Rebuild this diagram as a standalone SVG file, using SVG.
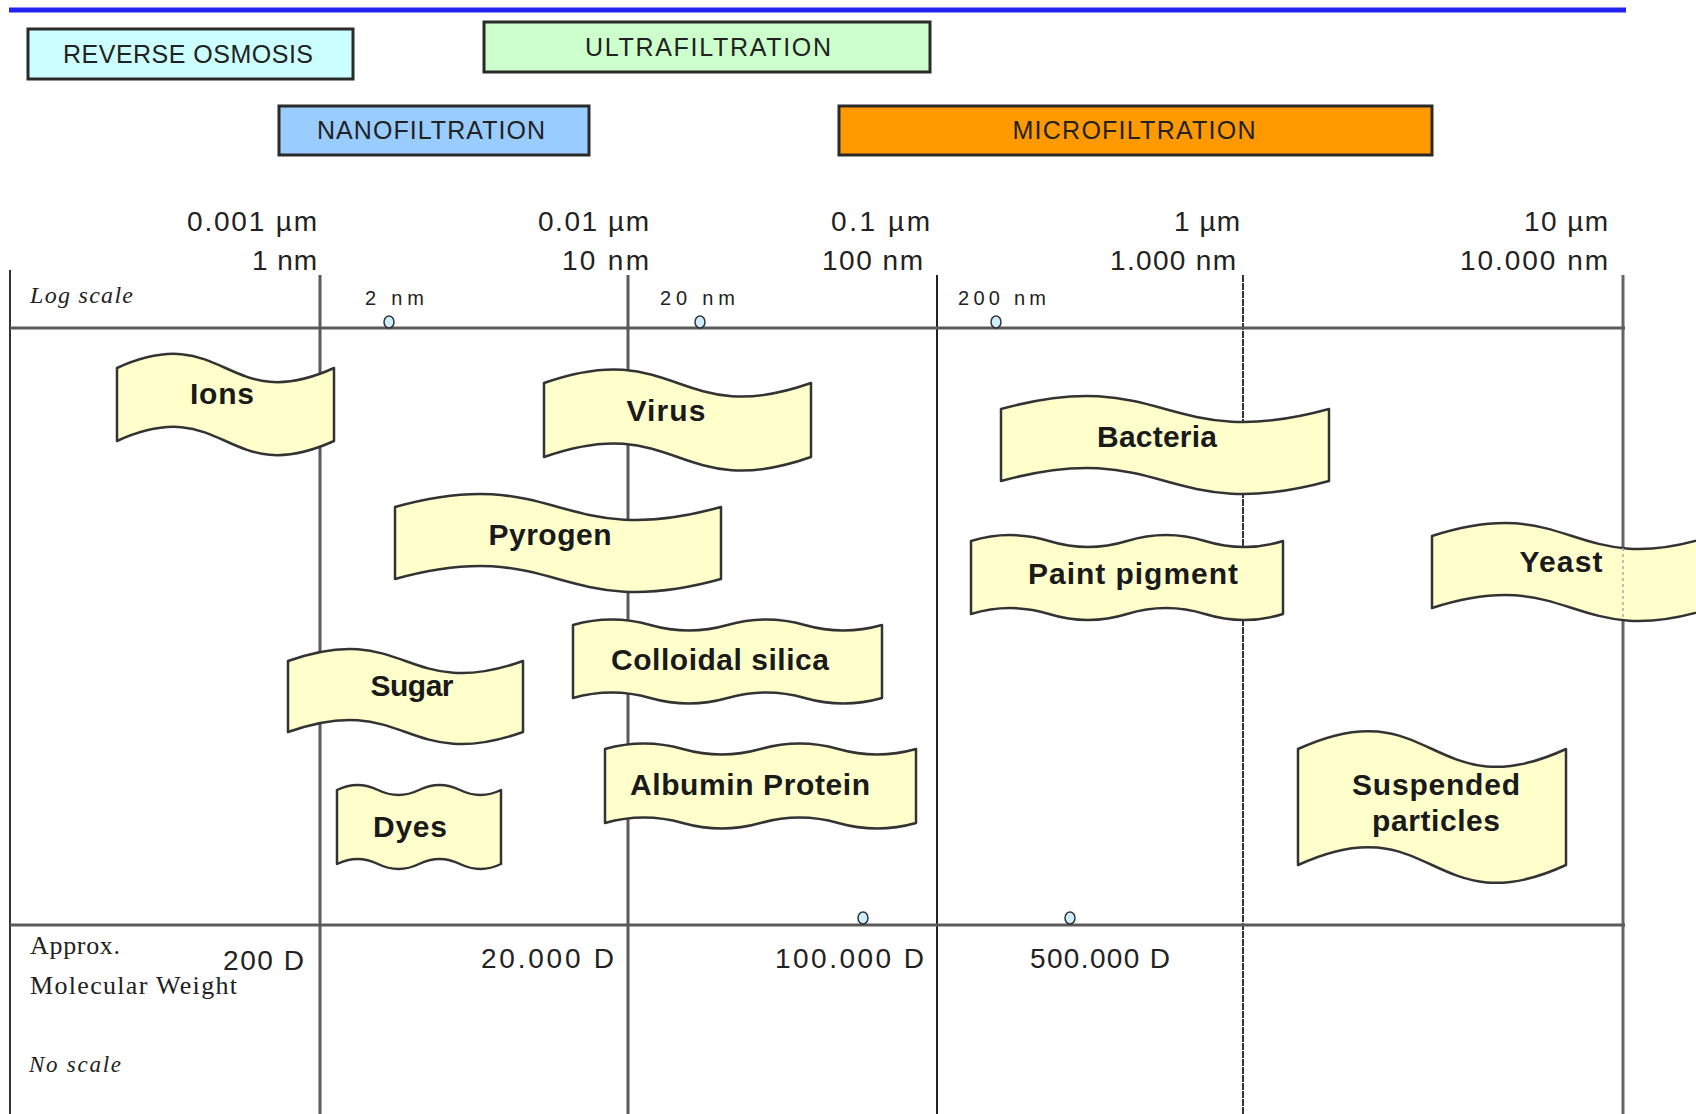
<svg xmlns="http://www.w3.org/2000/svg" width="1696" height="1114" viewBox="0 0 1696 1114">
<style>
.bg{fill:#ffffff}
.box{stroke:#2a2a2a;stroke-width:3}
.boxlabel{font-family:"Liberation Sans",Arial,sans-serif;font-size:25px;fill:#222;text-anchor:middle}
.scale{font-family:"Liberation Sans",Arial,sans-serif;font-size:28px;fill:#222;text-anchor:end}
.small{font-family:"Liberation Sans",Arial,sans-serif;font-size:20px;fill:#222}
.mw{font-family:"Liberation Sans",Arial,sans-serif;font-size:28px;fill:#222}
.serif{font-family:"Liberation Serif","Times New Roman",serif;fill:#222}
.ital{font-style:italic}
.flag{fill:#FFFFCC;stroke:#333;stroke-width:2.5;stroke-linejoin:round}
.flagtext{font-family:"Liberation Sans",Arial,sans-serif;font-weight:bold;font-size:30px;fill:#1a1a1a;text-anchor:middle}
.gl{stroke:#5a5a5a;stroke-width:3}
.dot{fill:#CCEEFF;stroke:#333;stroke-width:1.5}
</style>
<rect class="bg" x="0" y="0" width="1696" height="1114"/>
<line x1="9" y1="10" x2="1626" y2="10" stroke="#2222EE" stroke-width="5"/>

<g id="reverse-osmosis">
<rect class="box" x="28" y="29" width="325" height="50" fill="#CCFFFF"/>
<text class="boxlabel" x="188" y="63" textLength="250" lengthAdjust="spacing">REVERSE OSMOSIS</text>
</g>
<g id="ultrafiltration">
<rect class="box" x="484" y="22" width="446" height="50" fill="#CCFFCC"/>
<text class="boxlabel" x="708" y="56" textLength="246" lengthAdjust="spacing">ULTRAFILTRATION</text>
</g>
<g id="nanofiltration">
<rect class="box" x="279" y="106" width="310" height="49" fill="#99CCFF"/>
<text class="boxlabel" x="431" y="139" textLength="228" lengthAdjust="spacing">NANOFILTRATION</text>
</g>
<g id="microfiltration">
<rect class="box" x="839" y="106" width="593" height="49" fill="#FF9900"/>
<text class="boxlabel" x="1134" y="139" textLength="243" lengthAdjust="spacing">MICROFILTRATION</text>
</g>

<g id="scale-labels">
<text class="scale" x="317" y="231" textLength="130" lengthAdjust="spacing">0.001 µm</text>
<text class="scale" x="317" y="270" textLength="65" lengthAdjust="spacing">1 nm</text>
<text class="scale" x="649" y="231" textLength="111" lengthAdjust="spacing">0.01 µm</text>
<text class="scale" x="649" y="270" textLength="87" lengthAdjust="spacing">10 nm</text>
<text class="scale" x="930" y="231" textLength="99" lengthAdjust="spacing">0.1 µm</text>
<text class="scale" x="923" y="270" textLength="101" lengthAdjust="spacing">100 nm</text>
<text class="scale" x="1240" y="231" textLength="66" lengthAdjust="spacing">1 µm</text>
<text class="scale" x="1236" y="270" textLength="126" lengthAdjust="spacing">1.000 nm</text>
<text class="scale" x="1608" y="231" textLength="84" lengthAdjust="spacing">10 µm</text>
<text class="scale" x="1608" y="270" textLength="148" lengthAdjust="spacing">10.000 nm</text>
<text class="serif ital" x="30" y="303" font-size="24" textLength="103" lengthAdjust="spacing">Log scale</text>
<text class="small" x="365" y="305" textLength="59" lengthAdjust="spacing">2 nm</text>
<text class="small" x="660" y="305" textLength="75" lengthAdjust="spacing">20 nm</text>
<text class="small" x="958" y="305" textLength="88" lengthAdjust="spacing">200 nm</text>
</g>

<g id="connectors">
<line x1="10" y1="270" x2="10" y2="1114" stroke="#333" stroke-width="2"/>
<line class="gl" x1="320" y1="275" x2="320" y2="1114"/>
<line class="gl" x1="628" y1="275" x2="628" y2="1114"/>
<line x1="937" y1="275" x2="937" y2="1114" stroke="#222" stroke-width="2"/>
<line x1="1243" y1="275" x2="1243" y2="1114" stroke="#333" stroke-width="2" stroke-dasharray="7 1"/>
<line x1="1623" y1="275" x2="1623" y2="1114" stroke="#666" stroke-width="3"/>
<line class="gl" x1="10" y1="328" x2="1625" y2="328"/>
<line class="gl" x1="10" y1="925" x2="1625" y2="925"/>
<ellipse class="dot" cx="389" cy="322" rx="5" ry="6"/>
<ellipse class="dot" cx="700" cy="322" rx="5" ry="6"/>
<ellipse class="dot" cx="996" cy="322" rx="5" ry="6"/>
<ellipse class="dot" cx="863" cy="918" rx="5" ry="6"/>
<ellipse class="dot" cx="1070" cy="918" rx="5" ry="6"/>
</g>

<g id="mw-labels">
<text class="serif" x="30" y="954" font-size="26" textLength="90" lengthAdjust="spacing">Approx.</text>
<text class="serif" x="30" y="994" font-size="26" textLength="207" lengthAdjust="spacing">Molecular Weight</text>
<text class="serif ital" x="29" y="1072" font-size="23" textLength="92" lengthAdjust="spacing">No scale</text>
<text class="mw" x="223" y="970" textLength="81" lengthAdjust="spacing">200 D</text>
<text class="mw" x="481" y="968" textLength="133" lengthAdjust="spacing">20.000  D</text>
<text class="mw" x="775" y="968" textLength="149" lengthAdjust="spacing">100.000  D</text>
<text class="mw" x="1030" y="968" textLength="140" lengthAdjust="spacing">500.000 D</text>
</g>

<g id="ions">
<path class="flag" d="M117,368 C225.5,319 225.5,417 334,368 L334,441 C225.5,490 225.5,392 117,441 Z"/>
<text class="flagtext" x="222" y="404" textLength="64" lengthAdjust="spacing">Ions</text>
</g>
<g id="virus">
<path class="flag" d="M544,383 C677.5,336 677.5,430 811,383 L811,457 C677.5,504 677.5,410 544,457 Z"/>
<text class="flagtext" x="666" y="421" textLength="79" lengthAdjust="spacing">Virus</text>
</g>
<g id="bacteria">
<path class="flag" d="M1001,409 C1165,364 1165,454 1329,409 L1329,481 C1165,526 1165,436 1001,481 Z"/>
<text class="flagtext" x="1157" y="447" textLength="120" lengthAdjust="spacing">Bacteria</text>
</g>
<g id="pyrogen">
<path class="flag" d="M395,507 C558,462 558,552 721,507 L721,579 C558,624 558,534 395,579 Z"/>
<text class="flagtext" x="550" y="545" textLength="123" lengthAdjust="spacing">Pyrogen</text>
</g>
<g id="paint-pigment">
<path class="flag" d="M971,541 Q1010,529 1049,541 T1127,541 T1205,541 T1283,541 L1283,614 Q1244,626 1205,614 T1127,614 T1049,614 T971,614 Z"/>
<text class="flagtext" x="1133" y="584" textLength="210" lengthAdjust="spacing">Paint pigment</text>
</g>
<g id="yeast">
<path class="flag" d="M1432,536 C1572,491 1572,581 1712,536 L1712,608 C1572,653 1572,563 1432,608 Z"/>
<line x1="1623" y1="548" x2="1623" y2="618" stroke="#aaa" stroke-width="1.5" stroke-dasharray="3 3"/>
<text class="flagtext" x="1561" y="572" textLength="83" lengthAdjust="spacing">Yeast</text>
</g>
<g id="colloidal-silica">
<path class="flag" d="M573,625 Q611.6,614 650.25,625 T727.5,625 T804.75,625 T882,625 L882,698 Q843.4,709 804.75,698 T727.5,698 T650.25,698 T573,698 Z"/>
<text class="flagtext" x="720" y="670" textLength="218" lengthAdjust="spacing">Colloidal silica</text>
</g>
<g id="sugar">
<path class="flag" d="M288,661 C405.5,619 405.5,703 523,661 L523,732 C405.5,774 405.5,690 288,732 Z"/>
<text class="flagtext" x="412" y="696" textLength="83" lengthAdjust="spacing">Sugar</text>
</g>
<g id="albumin-protein">
<path class="flag" d="M605,749 Q643.9,738 682.75,749 T760.5,749 T838.25,749 T916,749 L916,823 Q877.1,834 838.25,823 T760.5,823 T682.75,823 T605,823 Z"/>
<text class="flagtext" x="750" y="795" textLength="240" lengthAdjust="spacing">Albumin Protein</text>
</g>
<g id="dyes">
<path class="flag" d="M337,790 Q357.5,780 378,790 T419,790 T460,790 T501,790 L501,864 Q480.5,874 460,864 T419,864 T378,864 T337,864 Z"/>
<text class="flagtext" x="410" y="837" textLength="74" lengthAdjust="spacing">Dyes</text>
</g>
<g id="suspended-particles">
<path class="flag" d="M1298,749 C1432,687 1432,811 1566,749 L1566,865 C1432,927 1432,803 1298,865 Z"/>
<text class="flagtext" x="1436" y="795" textLength="168" lengthAdjust="spacing">Suspended</text>
<text class="flagtext" x="1436" y="831" textLength="128" lengthAdjust="spacing">particles</text>
</g>
</svg>
